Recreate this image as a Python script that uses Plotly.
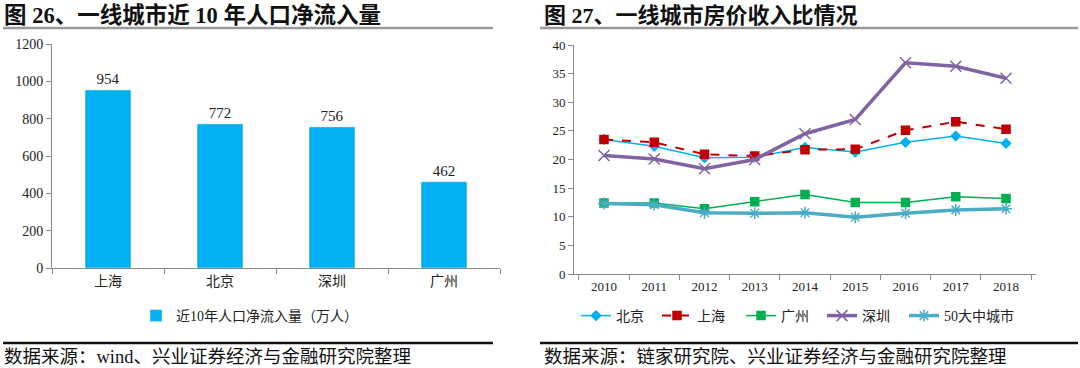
import plotly.graph_objects as go

# ---- data: left chart ----
cities_bar = ["上海", "北京", "深圳", "广州"]
inflow = [954, 772, 756, 462]
bar_name = "近10年人口净流入量（万人）"

# ---- data: right chart ----
years = ["2010", "2011", "2012", "2013", "2014", "2015", "2016", "2017", "2018"]
beijing = [23.5, 22.3, 20.3, 20.4, 22.1, 21.3, 23.0, 24.1, 22.8]
shanghai = [23.5, 23.0, 20.9, 20.6, 21.7, 21.8, 25.1, 26.6, 25.3]
guangzhou = [12.4, 12.4, 11.4, 12.6, 13.9, 12.5, 12.5, 13.5, 13.2]
shenzhen = [20.7, 20.1, 18.4, 20.0, 24.5, 27.0, 36.9, 36.3, 34.2]
city50 = [12.3, 12.1, 10.7, 10.6, 10.7, 9.9, 10.6, 11.2, 11.4]

FONT = "Times New Roman, Liberation Serif, Noto Sans CJK SC, serif"
W, H = 1080, 368


def px(x):
    return x / W


def py(y):
    return 1 - y / H


fig = go.Figure()

fig.add_trace(go.Bar(
    x=cities_bar, y=inflow, name=bar_name,
    marker=dict(color="#00B0F0"),
    text=[str(v) for v in inflow], textposition="outside",
    textfont=dict(size=15, color="#222", family=FONT),
    cliponaxis=False,
    xaxis="x", yaxis="y", legend="legend",
))

lines = [
    ("北京", beijing, "#00B0F0", "solid", 1.5, "diamond", 7),
    ("上海", shanghai, "#C00000", "dash", 2, "square", 8),
    ("广州", guangzhou, "#00B050", "solid", 1.5, "square", 8),
    ("深圳", shenzhen, "#8064A2", "solid", 3.5, "x-thin-open", 11),
    ("50大中城市", city50, "#4BACC6", "solid", 3.5, "asterisk-open", 10),
]
legend_x = [576, 657, 741, 822, 904]
legend_font = dict(family=FONT, size=14, color="#222")

for i, (name, vals, col, dash, w, sym, sz) in enumerate(lines):
    lg = "legend%d" % (i + 2)
    fig.add_trace(go.Scatter(
        x=years, y=vals, name=name, mode="lines+markers",
        line=dict(color=col, width=w, dash=dash),
        marker=dict(symbol=sym, size=sz, color=col,
                    line=dict(color=col, width=1.5)),
        xaxis="x2", yaxis="y2", legend=lg,
    ))
    fig.update_layout({lg: dict(orientation="h", x=px(legend_x[i]), y=py(316),
                                xanchor="left", yanchor="middle", font=legend_font,
                                bgcolor="rgba(0,0,0,0)", itemwidth=30)})

axcol = "#8a8a8a"
tickfont = dict(family=FONT, size=14, color="#222")
tickfont2 = dict(family=FONT, size=13, color="#222")

fig.update_layout(
    width=W, height=H,
    margin=dict(l=0, r=0, t=0, b=0, autoexpand=False),
    paper_bgcolor="white", plot_bgcolor="white",
    font=dict(family=FONT, color="#222"),
    bargap=0.59,
    xaxis=dict(domain=[px(52), px(500)], anchor="y", type="category",
               showline=True, linecolor=axcol, linewidth=1,
               ticks="outside", tickson="boundaries", ticklen=5, tickcolor=axcol,
               tickfont=tickfont, showgrid=False, fixedrange=True),
    yaxis=dict(domain=[py(268), py(44)], anchor="x", range=[0, 1200], dtick=200,
               showline=True, linecolor=axcol, linewidth=1,
               ticks="outside", ticklen=5, tickcolor=axcol,
               tickfont=tickfont, showgrid=False, zeroline=False),
    xaxis2=dict(domain=[px(574), px(1036)], anchor="y2", type="category",
                showline=True, linecolor=axcol, linewidth=1,
                ticks="outside", tickson="boundaries", ticklen=5, tickcolor=axcol,
                tickfont=tickfont2, showgrid=False),
    yaxis2=dict(domain=[py(274), py(45)], anchor="x2", range=[0, 40], dtick=5,
                showline=True, linecolor=axcol, linewidth=1,
                ticks="outside", ticklen=5, tickcolor=axcol,
                tickfont=tickfont2, showgrid=False, zeroline=False),
    legend=dict(orientation="h", x=px(136), y=py(316), xanchor="left", yanchor="middle",
                font=legend_font, bgcolor="rgba(0,0,0,0)", itemwidth=30),
    showlegend=True,
)

annotations = [
    dict(text="<b>图 26、一线城市近 10 年人口净流入量</b>", x=px(2), y=py(15), s=22.5),
    dict(text="<b>图 27、一线城市房价收入比情况</b>", x=px(542), y=py(15), s=22),
    dict(text="数据来源：wind、兴业证券经济与金融研究院整理", x=px(2), y=py(357), s=18.5),
    dict(text="数据来源：链家研究院、兴业证券经济与金融研究院整理", x=px(542), y=py(357), s=18.5),
]
for a in annotations:
    fig.add_annotation(xref="paper", yref="paper", xanchor="left", yanchor="middle",
                       showarrow=False, text=a["text"], x=a["x"], y=a["y"],
                       font=dict(family=FONT, size=a["s"], color="#111"))

shapes = [
    dict(x0=3, x1=493, y=28, color="#9a9a9a"),
    dict(x0=540, x1=1078, y=28, color="#9a9a9a"),
    dict(x0=3, x1=493, y=343, color="#111"),
    dict(x0=540, x1=1078, y=343, color="#111"),
]
for s in shapes:
    fig.add_shape(type="line", xref="paper", yref="paper",
                  x0=px(s["x0"]), x1=px(s["x1"]), y0=py(s["y"]), y1=py(s["y"]),
                  line=dict(color=s["color"], width=2.5))

fig.write_html("out.html", config={"displayModeBar": False},
               post_script="document.body.style.margin='0px';")
